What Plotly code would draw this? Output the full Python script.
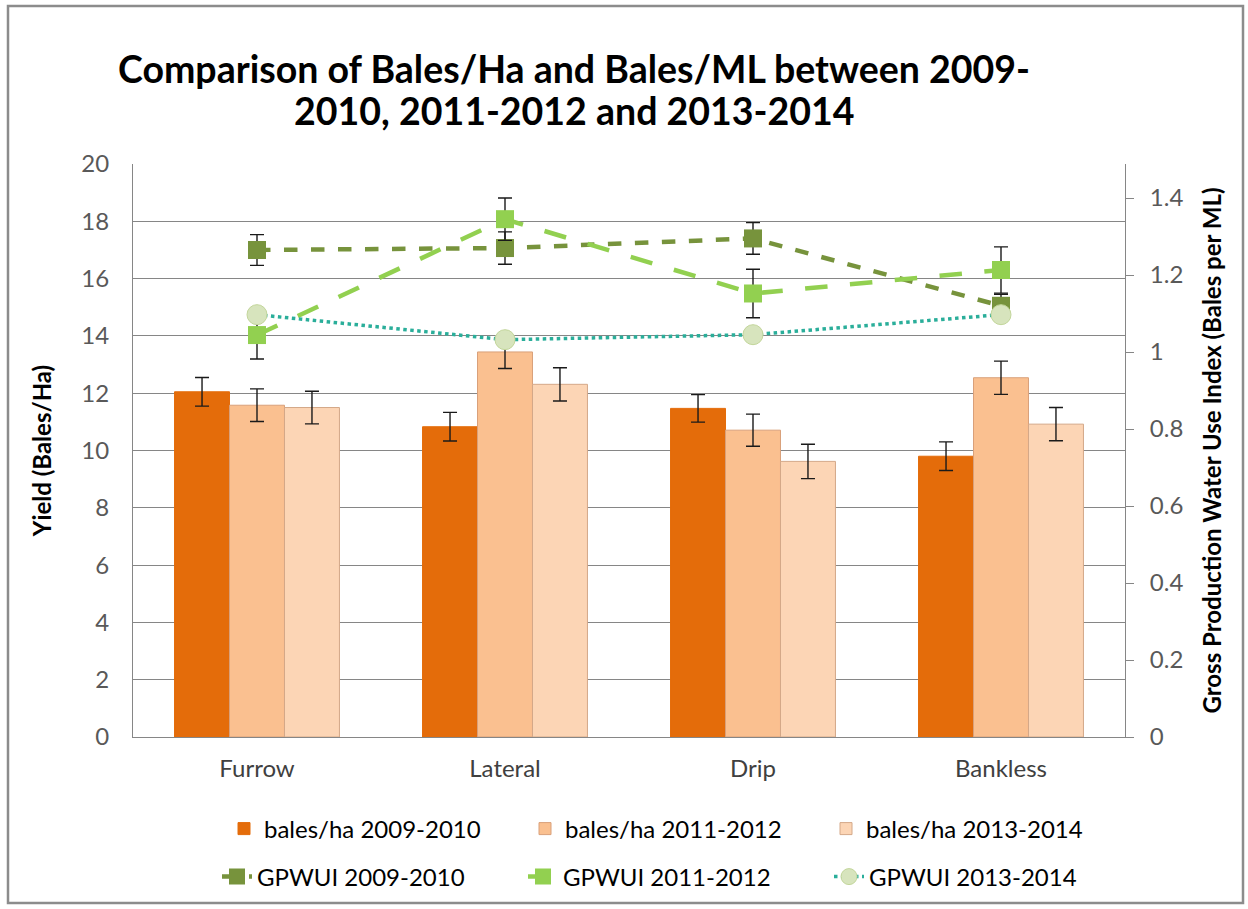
import plotly.graph_objects as go

categories = ["Furrow", "Lateral", "Drip", "Bankless"]

bales_2009 = [12.05, 10.83, 11.47, 9.8]
bales_2009_err = [0.5, 0.5, 0.48, 0.5]
bales_2011 = [11.58, 13.44, 10.71, 12.54]
bales_2011_err = [0.57, 0.58, 0.56, 0.58]
bales_2013 = [11.5, 12.31, 9.62, 10.92]
bales_2013_err = [0.57, 0.58, 0.6, 0.58]

gpwui_2009 = [1.265, 1.27, 1.295, 1.12]
gpwui_2009_err = [0.04, 0.042, 0.041, 0.03]
gpwui_2011 = [1.044, 1.345, 1.152, 1.213]
gpwui_2011_err = [0.062, 0.055, 0.063, 0.06]
gpwui_2013 = [1.097, 1.032, 1.045, 1.097]

title_lines = ["Comparison of Bales/Ha and Bales/ML between 2009-", "2010, 2011-2012 and 2013-2014"]

FONT = "Lato"
W, H = 1248, 909
# plot area in page pixels: x 133..1125, y 164..737
ML, MR, MT, MB = 133, W - 1125, 164, H - 737
pw = W - ML - MR
ph = H - MT - MB


def px_x(x):
    return (x - ML) / pw


def px_y(y):
    return (H - MB - y) / ph


def err(values):
    return dict(type="data", array=values, visible=True, color="#1a1a1a", thickness=1.4, width=7)


fig = go.Figure()
bar_specs = [
    ("bales/ha 2009-2010", bales_2009, bales_2009_err, "#E46C0A", "#E46C0A"),
    ("bales/ha 2011-2012", bales_2011, bales_2011_err, "#FAC090", "#D9A07A"),
    ("bales/ha 2013-2014", bales_2013, bales_2013_err, "#FCD5B5", "#D4A888"),
]
for name, vals, e, colour, edge in bar_specs:
    fig.add_trace(go.Bar(
        x=categories, y=vals, name=name, error_y=err(e),
        marker=dict(color=colour, line=dict(color=edge, width=1)),
        legend="legend",
    ))

fig.add_trace(go.Scatter(
    x=categories, y=gpwui_2009, name="GPWUI 2009-2010", yaxis="y2", mode="lines+markers",
    line=dict(color="#77933C", width=4.5, dash="dash"),
    marker=dict(symbol="square", size=18, color="#77933C"),
    error_y=err(gpwui_2009_err), legend="legend2",
))
fig.add_trace(go.Scatter(
    x=categories, y=gpwui_2011, name="GPWUI 2011-2012", yaxis="y2", mode="lines+markers",
    line=dict(color="#92D050", width=4.5, dash="longdash"),
    marker=dict(symbol="square", size=18, color="#92D050"),
    error_y=err(gpwui_2011_err), legend="legend2",
))
fig.add_trace(go.Scatter(
    x=categories, y=gpwui_2013, name="GPWUI 2013-2014", yaxis="y2", mode="lines+markers",
    line=dict(color="#2AAE9A", width=3.5, dash="dot"),
    marker=dict(symbol="circle", size=20, color="#D7E4BD", line=dict(color="#C3D69B", width=1)),
    legend="legend2",
))

# outer chart border
fig.add_shape(
    type="rect", xref="paper", yref="paper",
    x0=px_x(8), x1=px_x(1243), y0=px_y(903), y1=px_y(6),
    line=dict(color="#8c8c8c", width=2.5), layer="below",
)

for text, cy in zip(title_lines, [68, 110]):
    fig.add_annotation(
        text=f"<b>{text}</b>", x=px_x(574), y=px_y(cy), xref="paper", yref="paper",
        xanchor="center", yanchor="middle", showarrow=False,
        font=dict(family=FONT, size=37.5, color="black"),
    )

fig.update_layout(
    width=W, height=H,
    margin=dict(l=ML, r=MR, t=MT, b=MB, autoexpand=False),
    paper_bgcolor="white", plot_bgcolor="white",
    font=dict(family=FONT, size=24, color="#404040"),
    barmode="group", bargap=0.335, bargroupgap=0,
    xaxis=dict(showline=True, linecolor="#868686", linewidth=1, tickfont=dict(size=24, color="#404040"),
               ticks="", showgrid=False, ticklabelstandoff=10),
    yaxis=dict(range=[0, 20], dtick=2, showgrid=True, gridcolor="#868686", gridwidth=1,
               showline=True, linecolor="#868686", zeroline=False,
               tickfont=dict(size=24, color="#595959"), ticklabelstandoff=18,
               title=dict(text="<b>Yield (Bales/Ha)</b>", font=dict(size=24, color="black"), standoff=22)),
    yaxis2=dict(range=[0, 1.4 * ph / (737 - 198)], dtick=0.2, overlaying="y", side="right",
                showgrid=False, showline=True, linecolor="#868686", zeroline=False,
                ticks="outside", ticklen=8, tickcolor="#868686",
                tickfont=dict(size=24, color="#595959"), ticklabelstandoff=11,
                title=dict(text="<b>Gross Production Water Use Index (Bales per ML)</b>",
                           font=dict(size=24, color="black"), standoff=21)),
    legend=dict(orientation="h", x=px_x(224), xanchor="left", y=px_y(829), yanchor="middle",
                entrywidth=256, font=dict(size=24, color="black"), bgcolor="rgba(0,0,0,0)"),
    legend2=dict(orientation="h", x=px_x(217), xanchor="left", y=px_y(877), yanchor="middle",
                 entrywidth=261, font=dict(size=24, color="black"), bgcolor="rgba(0,0,0,0)"),
)

# the page body has an 8px margin by default; drop it so the figure sits at (0, 0)
fig.write_html(
    "out.html",
    config={"displayModeBar": False},
    post_script="document.body.style.margin = '0'; document.body.style.overflow = 'hidden';",
)
